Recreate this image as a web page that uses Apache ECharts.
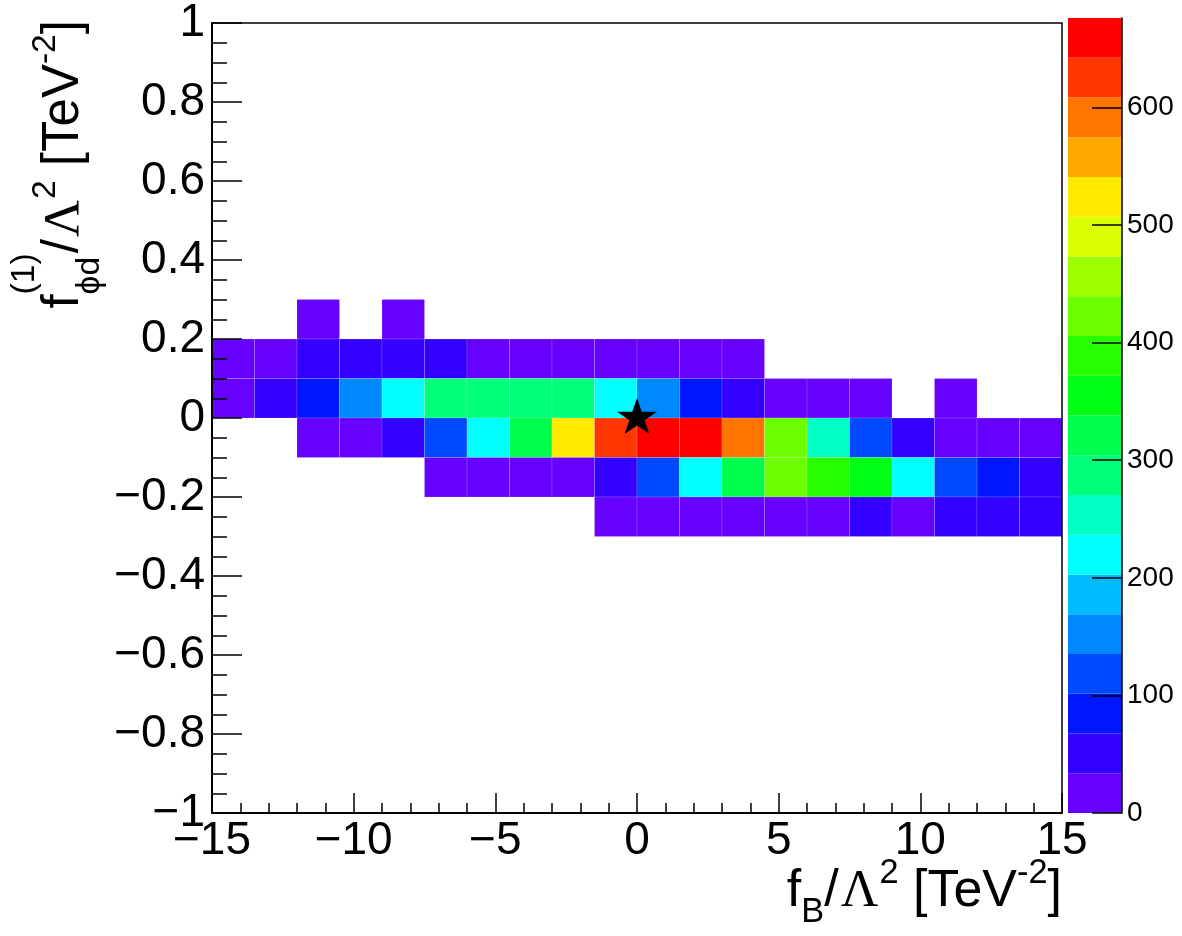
<!DOCTYPE html>
<html><head><meta charset="utf-8">
<script src="https://cdn.jsdelivr.net/npm/echarts@6/dist/echarts.min.js"></script>
<style>html,body{margin:0;padding:0;background:#fff}#c{width:1182px;height:936px}</style>
</head><body><div id="c"></div>
<script>
// ---------------- data ----------------
const xBinLow = [-15,-13.5,-12,-10.5,-9,-7.5,-6,-4.5,-3,-1.5,0,1.5,3,4.5,6,7.5,9,10.5,12,13.5];
const xBinWidth = 1.5;
const yBinWidth = 0.1;
const rowY = [0.2, 0.1, 0, -0.1, -0.2, -0.3];
const row_p02 = [null,null,9,null,6,null,null,null,null,null,null,null,null,null,null,null,null,null,null,null];
const row_p01 = [14,18,48,52,46,40,22,25,28,26,24,20,15,null,null,null,null,null,null,null];
const row_p00 = [12,50,86,152,222,290,285,292,288,218,155,84,55,28,22,18,null,6,null,null];
const row_m01 = [null,null,20,26,55,120,225,322,525,628,676,662,592,420,255,118,48,30,24,18];
const row_m02 = [null,null,null,null,null,16,22,25,20,45,122,220,318,425,392,358,224,115,88,52];
const row_m03 = [null,null,null,null,null,null,null,null,null,14,22,26,20,24,28,42,30,48,44,40];
const rows = [row_p02, row_p01, row_p00, row_m01, row_m02, row_m03];
const zMax = 676;
const nLevels = 20;
const zTickLabels = [0,100,200,300,400,500,600];
const smPoint = [[0, 0]];

// ---------------- style ----------------
const palette = ['#6600ff','#3300ff','#0016ff','#0049ff','#0088ff','#00bbff','#00ffff','#00ffc4','#00ff7a','#00ff4d',
                 '#00ff14','#25ff00','#6cff00','#9eff00','#dcff00','#ffea00','#ffa800','#ff7500','#ff3600','#ff0000'];
const FONT = 'Liberation Sans, Arial, Helvetica, sans-serif';
const SERIF = 'Liberation Serif, DejaVu Serif, serif';

const cells = [];
rows.forEach((vals, r) => vals.forEach((v, i) => { if (v != null) cells.push([xBinLow[i], rowY[r], v]); }));

const levelData = [];
const pieces = [];
for (let i = 0; i < nLevels; i++) {
  const lo = zMax * i / nLevels, hi = zMax * (i + 1) / nLevels;
  levelData.push([lo, hi, i]);
  const p = { gte: lo, color: palette[i] };
  if (i === nLevels - 1) p.lte = hi; else p.lt = hi;
  pieces.push(p);
}

const minus = s => String(s).replace('-', '\u2212');

// ---------- latex-like titles ----------
const mctx = document.createElement('canvas').getContext('2d');
function measure(t, size, fam) { mctx.font = size + 'px ' + fam; return mctx.measureText(t).width; }
function latex(parts, F) {
  let x = 0, stackW = 0;
  const els = [];
  parts.forEach(p => {
    const size = (p.s || 1) * F;
    const fam = p.fam || FONT;
    const w = measure(p.t, size, fam);
    els.push({
      type: 'text', x: x + (p.dx || 0) * F, y: (p.dy || 0) * F - 0.3465 * size,
      style: { text: p.t, font: size + 'px ' + fam, fill: '#000', align: 'left', verticalAlign: 'middle',
               textAlign: 'left', textVerticalAlign: 'middle' }
    });
    if (p.stack) { stackW = w; }
    else { x += Math.max(w, stackW) + (p.gap || 0) * F; stackW = 0; }
  });
  return { els, width: x };
}
const xTitle = latex([
  { t: 'f' }, { t: 'B', s: 0.66, dy: 0.28 }, { t: '/', gap: 0.04 }, { t: '\u039B', fam: SERIF, gap: 0.02 },
  { t: '2', s: 0.66, dy: -0.48 }, { t: ' [TeV' }, { t: '-2', s: 0.66, dy: -0.48 }, { t: ']' }
], 52);
const yTitle = latex([
  { t: 'f' }, { t: '(1)', s: 0.66, dy: -0.9, stack: true }, { t: '\u03D5d', s: 0.66, dy: 0.38 },
  { t: '/', gap: 0.04 }, { t: '\u039B', fam: SERIF, gap: 0.02 }, { t: '2', s: 0.66, dy: -0.48 },
  { t: ' [TeV' }, { t: '-2', s: 0.66, dy: -0.48 }, { t: ']' }
], 51);

const starPath = 'path://M0,-1L0.2245,-0.309L0.951,-0.309L0.363,0.118L0.588,0.809L0,0.382L-0.588,0.809L-0.363,0.118L-0.951,-0.309L-0.2245,-0.309Z';

const chart = echarts.init(document.getElementById('c'));
chart.setOption({
  animation: false,
  grid: [
    { left: 212, top: 18, width: 850, height: 795, show: true, borderColor: '#000', borderWidth: 1.5, backgroundColor: 'transparent', z: 10 },
    { left: 1068, top: 18, width: 54, height: 795, show: false },
    { left: 1122, top: 18, width: 20, height: 795, show: false }
  ],
  xAxis: [
    { type: 'value', gridIndex: 0, min: -15, max: 15, interval: 5, z: 10,
      axisLine: { show: true, onZero: false, lineStyle: { color: '#000', width: 2 } },
      axisTick: { show: true, inside: true, length: 20, lineStyle: { color: '#000', width: 1.5 } },
      minorTick: { show: true, splitNumber: 5, length: 10, lineStyle: { color: '#000', width: 1.5 } },
      splitLine: { show: false },
      axisLabel: { margin: 5, fontSize: 46, fontFamily: FONT, color: '#000', showMinLabel: true, showMaxLabel: true,
                   formatter: v => minus(Math.round(v)) } },
    { type: 'value', gridIndex: 1, min: 0, max: 1, show: false },
    { type: 'value', gridIndex: 2, min: 0, max: 1, show: false }
  ],
  yAxis: [
    { type: 'value', gridIndex: 0, min: -1, max: 1, interval: 0.2, z: 10,
      axisLine: { show: true, onZero: false, lineStyle: { color: '#000', width: 2 } },
      axisTick: { show: true, inside: true, length: 30, lineStyle: { color: '#000', width: 1.5 } },
      minorTick: { show: true, splitNumber: 4, length: 15, lineStyle: { color: '#000', width: 1.5 } },
      splitLine: { show: false },
      axisLabel: { margin: 7, fontSize: 46, fontFamily: FONT, color: '#000', showMinLabel: true, showMaxLabel: true,
                   formatter: v => minus(Math.round(v * 10) / 10) } },
    { type: 'value', gridIndex: 1, min: 0, max: zMax, show: false },
    { type: 'value', gridIndex: 2, min: 0, max: zMax, interval: 100, position: 'left', z: 10,
      axisLine: { show: true, onZero: false, lineStyle: { color: '#000', width: 1.5 } },
      axisTick: { show: true, inside: false, length: 30, customValues: zTickLabels, lineStyle: { color: '#000', width: 1.5 } },
      splitLine: { show: false },
      axisLabel: { inside: true, margin: 5, fontSize: 28, fontFamily: FONT, color: '#000', customValues: zTickLabels } }
  ],
  visualMap: { type: 'piecewise', show: false, seriesIndex: 0, dimension: 2, pieces: pieces },
  series: [
    { type: 'custom', xAxisIndex: 0, yAxisIndex: 0, data: cells, encode: { x: 0, y: 1 },
      renderItem: (params, api) => {
        const x0 = api.value(0), y0 = api.value(1);
        const p0 = api.coord([x0, y0 + yBinWidth]);
        const p1 = api.coord([x0 + xBinWidth, y0]);
        return { type: 'rect', shape: { x: p0[0], y: p0[1], width: p1[0] - p0[0], height: p1[1] - p0[1] },
                 style: { fill: api.visual('color'), stroke: 'rgba(255,255,255,0.15)', lineWidth: 1 } };
      } },
    { type: 'custom', xAxisIndex: 1, yAxisIndex: 1, data: levelData, encode: { y: [0, 1] }, z: 1,
      renderItem: (params, api) => {
        const p0 = api.coord([0, api.value(1)]);
        const p1 = api.coord([1, api.value(0)]);
        return { type: 'rect', shape: { x: p0[0], y: p0[1], width: p1[0] - p0[0], height: p1[1] - p0[1] },
                 style: { fill: palette[api.value(2)] } };
      } },
    { type: 'scatter', xAxisIndex: 0, yAxisIndex: 0, data: smPoint, symbol: starPath, symbolKeepAspect: true,
      symbolSize: [40, 38], symbolOffset: [0, -2], itemStyle: { color: '#000', opacity: 1 }, z: 20, silent: true }
  ],
  graphic: [
    { type: 'group', x: 1062 - xTitle.width, y: 910, children: xTitle.els },
    { type: 'group', x: 82, y: 20 + yTitle.width, rotation: Math.PI / 2, children: yTitle.els }
  ]
});
</script></body></html>
